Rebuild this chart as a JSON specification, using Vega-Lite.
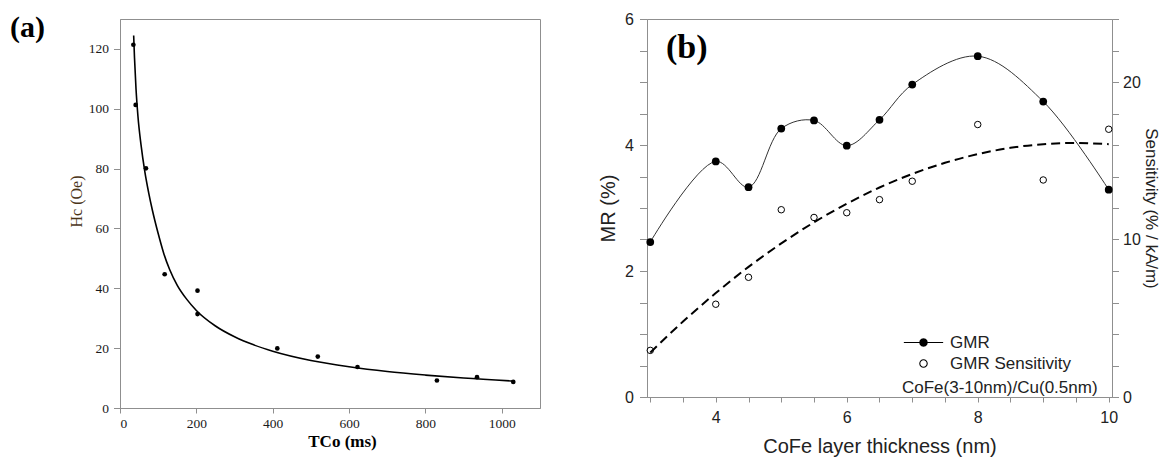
{
  "$schema": "https://vega.github.io/schema/vega-lite/v6.json",
  "background": "white",
  "padding": {"left": 9, "top": 10, "right": 0, "bottom": 0},
  "bounds": "flush",
  "spacing": 107,
  "datasets": {
    "hc": [
      {"tco": 35, "hc": 121.4}, {"tco": 41, "hc": 101.3}, {"tco": 68, "hc": 80.1},
      {"tco": 117, "hc": 44.7}, {"tco": 203, "hc": 39.2}, {"tco": 203, "hc": 31.4},
      {"tco": 412, "hc": 19.9}, {"tco": 518, "hc": 17.2}, {"tco": 622, "hc": 13.7},
      {"tco": 830, "hc": 9.2}, {"tco": 935, "hc": 10.3}, {"tco": 1030, "hc": 8.7}
    ],
    "hcfit": [
      {"tco": 35.8, "hc": 124.5}, {"tco": 38, "hc": 117}, {"tco": 42, "hc": 106.5},
      {"tco": 47, "hc": 97.5}, {"tco": 55, "hc": 88}, {"tco": 65, "hc": 79},
      {"tco": 75, "hc": 72}, {"tco": 85, "hc": 66}, {"tco": 100, "hc": 58.3},
      {"tco": 115, "hc": 51.5}, {"tco": 130, "hc": 46.3}, {"tco": 150, "hc": 41},
      {"tco": 175, "hc": 36.3}, {"tco": 200, "hc": 32.6}, {"tco": 250, "hc": 27.4},
      {"tco": 300, "hc": 23.8}, {"tco": 350, "hc": 21.1}, {"tco": 400, "hc": 19},
      {"tco": 500, "hc": 15.9}, {"tco": 600, "hc": 13.8}, {"tco": 700, "hc": 12.2},
      {"tco": 800, "hc": 11}, {"tco": 900, "hc": 10}, {"tco": 1030, "hc": 9}
    ],
    "gmr": [
      {"t": 3, "mr": 2.46}, {"t": 4, "mr": 3.74}, {"t": 4.5, "mr": 3.33}, {"t": 5, "mr": 4.26},
      {"t": 5.5, "mr": 4.39}, {"t": 6, "mr": 3.99}, {"t": 6.5, "mr": 4.4}, {"t": 7, "mr": 4.96},
      {"t": 8, "mr": 5.41}, {"t": 9, "mr": 4.69}, {"t": 10, "mr": 3.29}
    ],
    "sens": [
      {"t": 3, "s": 2.96}, {"t": 4, "s": 5.89}, {"t": 4.5, "s": 7.6}, {"t": 5, "s": 11.89},
      {"t": 5.5, "s": 11.4}, {"t": 6, "s": 11.7}, {"t": 6.5, "s": 12.53}, {"t": 7, "s": 13.7},
      {"t": 8, "s": 17.3}, {"t": 9, "s": 13.78}, {"t": 10, "s": 17.0}
    ],
    "sensfit": [
      {"t": 3, "s": 2.82}, {"t": 3.5, "s": 4.79}, {"t": 4, "s": 6.6}, {"t": 4.5, "s": 8.26},
      {"t": 5, "s": 9.75}, {"t": 5.5, "s": 11.09}, {"t": 6, "s": 12.27}, {"t": 6.5, "s": 13.3},
      {"t": 7, "s": 14.16}, {"t": 7.5, "s": 14.87}, {"t": 8, "s": 15.42}, {"t": 8.5, "s": 15.82},
      {"t": 9, "s": 16.05}, {"t": 9.5, "s": 16.13}, {"t": 10, "s": 16.05}
    ],
    "legendrows": []
  },
  "hconcat": [
    {
      "width": 420,
      "height": 389,
      "title": {
        "text": "(a)", "anchor": "start", "frame": "group", "font": "Liberation Serif",
        "fontSize": 30, "fontWeight": "bold", "color": "black", "baseline": "top",
        "offset": -2, "dx": -110, "dy": 22
      },
      "encoding": {
        "x": {
          "field": "tco", "type": "quantitative",
          "scale": {"domain": [0, 1100], "nice": false, "zero": false},
          "axis": {
            "values": [0, 200, 400, 600, 800, 1000], "format": "d", "title": "TCo (ms)",
            "labelFont": "Liberation Serif", "labelFontSize": 13.5, "labelColor": "#1a1a1a",
            "titleFont": "Liberation Serif", "titleFontSize": 17, "titleFontWeight": "bold",
            "titleColor": "black", "tickSize": 5, "labelPadding": 3, "titlePadding": 4,
            "titleX": 222
          }
        },
        "y": {
          "field": "hc", "type": "quantitative",
          "scale": {"domain": [0, 130], "nice": false},
          "axis": {
            "values": [0, 20, 40, 60, 80, 100, 120], "format": "d", "title": "Hc (Oe)",
            "labelFont": "Liberation Serif", "labelFontSize": 13.5, "labelColor": "#1a1a1a",
            "titleFont": "Liberation Serif", "titleFontSize": 16, "titleFontWeight": "normal",
            "titleColor": "#4a3418", "tickSize": 6.5, "labelPadding": 5, "titlePadding": 4,
            "titleY": 182
          }
        }
      },
      "layer": [
        {
          "data": {"name": "hcfit"},
          "mark": {"type": "line", "color": "black", "strokeWidth": 1.6, "interpolate": "monotone"}
        },
        {
          "data": {"name": "hc"},
          "mark": {"type": "circle", "color": "black", "size": 22, "opacity": 1}
        }
      ]
    },
    {
      "width": 465,
      "height": 378,
      "title": {
        "text": "(b)", "anchor": "start", "frame": "group", "font": "Liberation Serif",
        "fontSize": 34, "fontWeight": "bold", "color": "black", "baseline": "top",
        "offset": -16, "dx": 19, "dy": 38
      },
      "encoding": {
        "x": {
          "field": "t", "type": "quantitative",
          "scale": {"domain": [2.95, 10.05], "nice": false, "zero": false},
          "axis": {
            "values": [3, 3.5, 4, 4.5, 5, 5.5, 6, 6.5, 7, 7.5, 8, 8.5, 9, 9.5, 10],
            "format": "~g",
            "labelExpr": "datum.value % 2 === 0 ? datum.label : ''",
            "title": "CoFe layer thickness (nm)",
            "labelFont": "Liberation Sans", "labelFontSize": 16, "labelColor": "#222",
            "titleFont": "Liberation Sans", "titleFontSize": 20, "titleFontWeight": "normal",
            "titleColor": "#222", "tickSize": 5, "labelPadding": 7, "titlePadding": 11,
            "labelOverlap": false
          }
        }
      },
      "layer": [
        {
          "encoding": {
            "y": {
              "field": "mr", "type": "quantitative",
              "scale": {"domain": [0, 6], "nice": false},
              "axis": {
                "orient": "left",
                "values": [0, 0.5, 1, 1.5, 2, 2.5, 3, 3.5, 4, 4.5, 5, 5.5, 6],
                "format": "~g",
                "labelExpr": "datum.value % 2 === 0 ? datum.label : ''",
                "title": "MR (%)",
                "labelFont": "Liberation Sans", "labelFontSize": 16, "labelColor": "#222",
                "titleFont": "Liberation Sans", "titleFontSize": 20, "titleFontWeight": "normal",
                "titleColor": "#222", "tickSize": 7.5, "labelPadding": 6, "titlePadding": 6,
                "labelOverlap": false
              }
            }
          },
          "layer": [
            {
              "data": {"name": "gmr"},
              "mark": {"type": "line", "color": "#333", "strokeWidth": 1, "interpolate": "catmull-rom"}
            },
            {
              "data": {"name": "gmr"},
              "mark": {"type": "point", "filled": true, "size": 60, "opacity": 1, "color": "black"}
            },
            {
              "data": {"name": "legendrows"},
              "mark": {"type": "point", "filled": false, "color": "black", "strokeWidth": 1.1, "size": 55, "opacity": 1},
              "encoding": {
                "shape": {
                  "field": "series", "type": "nominal",
                  "scale": {
                    "domain": ["GMR", "GMR Sensitivity"],
                    "range": [
                      "M-5.3,0H5.3M1,0L0.866,0.5L0.5,0.866L0,1L-0.5,0.866L-0.866,0.5L-1,0L-0.866,-0.5L-0.5,-0.866L0,-1L0.5,-0.866L0.866,-0.5ZM0.7,0L0.606,0.35L0.35,0.606L0,0.7L-0.35,0.606L-0.606,0.35L-0.7,0L-0.606,-0.35L-0.35,-0.606L0,-0.7L0.35,-0.606L0.606,-0.35ZM0.4,0L0.346,0.2L0.2,0.346L0,0.4L-0.2,0.346L-0.346,0.2L-0.4,0L-0.346,-0.2L-0.2,-0.346L0,-0.4L0.2,-0.346L0.346,-0.2ZM0.15,0L0,0.15L-0.15,0L0,-0.15Z",
                      "circle"
                    ]
                  },
                  "legend": {
                    "orient": "none", "legendX": 782, "legendY": 315,
                    "title": "CoFe(3-10nm)/Cu(0.5nm)", "titleOrient": "bottom", "titleAnchor": "start",
                    "titleFont": "Liberation Sans", "titleFontSize": 17, "titleFontWeight": "normal",
                    "titleColor": "#222", "titlePadding": 8, "titleLimit": 400,
                    "labelFont": "Liberation Sans", "labelFontSize": 17, "labelColor": "#222",
                    "symbolSize": 55, "symbolOffset": 13, "labelOffset": 18, "rowPadding": 3,
                    "padding": 0, "symbolStrokeWidth": 1.1, "symbolOpacity": 1,
                    "symbolStrokeColor": "black"
                  }
                }
              }
            }
          ]
        },
        {
          "encoding": {
            "y": {
              "field": "s", "type": "quantitative",
              "scale": {"domain": [0, 24], "nice": false},
              "axis": {
                "orient": "right",
                "values": [0, 2, 4, 6, 8, 10, 12, 14, 16, 18, 20, 22, 24],
                "format": "~g",
                "labelExpr": "datum.value % 10 === 0 ? datum.label : ''",
                "title": "Sensitivity (% / kA/m)",
                "labelFont": "Liberation Sans", "labelFontSize": 16, "labelColor": "#222",
                "titleFont": "Liberation Sans", "titleFontSize": 17, "titleFontWeight": "normal",
                "titleColor": "#222", "tickSize": 6.5, "labelPadding": 4, "titlePadding": 1,
                "labelOverlap": false
              }
            }
          },
          "layer": [
            {
              "data": {"name": "sensfit"},
              "mark": {"type": "line", "color": "black", "strokeWidth": 2, "strokeDash": [9, 5], "interpolate": "monotone"}
            },
            {
              "data": {"name": "sens"},
              "mark": {"type": "point", "filled": false, "size": 42, "opacity": 1, "strokeWidth": 1, "color": "black"}
            }
          ]
        }
      ],
      "resolve": {"scale": {"y": "independent"}}
    }
  ],
  "config": {
    "view": {"stroke": "#8f8f8f", "strokeWidth": 1},
    "axis": {"domainColor": "#8f8f8f", "tickColor": "#8f8f8f", "grid": false, "domainWidth": 1, "tickWidth": 1}
  }
}
